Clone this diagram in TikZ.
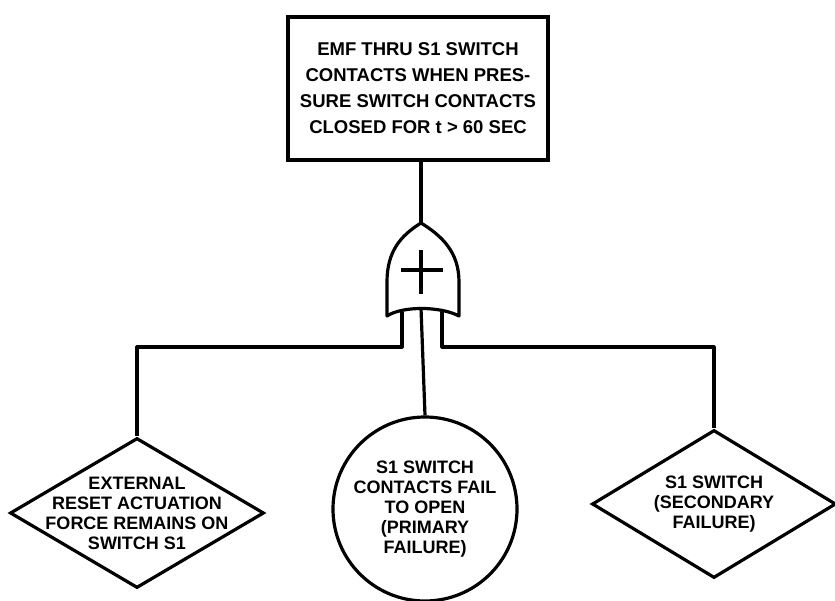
\documentclass[tikz,border=0pt]{standalone}
\usepackage{fontspec}
\setmainfont{Liberation Sans}
\usetikzlibrary{shapes.geometric}

\begin{document}
\begin{tikzpicture}[x=1pt, y=-1pt,
    % Define a style for the event shapes and their texts
    event/.style={draw=black, line width=3.2pt, inner sep=0pt},
    eventtext/.style={font=\bfseries\fontsize{18}{20}\selectfont, align=center},
    wire/.style={line width=3.2pt, line join=round}
]
    \useasboundingbox (0,0) rectangle (835,601);

    % Top event
    \node[event, eventtext, rectangle, minimum width=260pt, minimum height=143pt,
          font=\bfseries\fontsize{18.5}{26}\selectfont] (top) at (418,88.5)
          {EMF THRU S1 SWITCH\\CONTACTS WHEN PRES-\\SURE SWITCH CONTACTS\\CLOSED FOR t > 60 SEC};

    % OR gate, drawn by hand
    \coordinate (apex) at (421,223);
    \draw[wire] (apex) .. controls (400,236) and (387,252) .. (387,282) -- (387,316)
        .. controls (402,306) and (440,306) .. (459,316) -- (459,282)
        .. controls (459,252) and (442,236) .. (apex) -- cycle;
    \draw[wire] (421,250) -- (421,294);
    \draw[wire] (401,270) -- (443,270);

    % Gate outputs
    \coordinate (gL) at (402,312);
    \coordinate (gM) at (421,308);
    \coordinate (gR) at (442,312);

    % Basic and undeveloped events
    \node[event, diamond, minimum width=254pt, minimum height=150pt,
          label={[eventtext]center:EXTERNAL\\RESET ACTUATION\\FORCE REMAINS ON\\SWITCH S1}] (ext) at (137,513) {};
    \node[event, eventtext, circle, minimum size=184pt] (prim) at (425,509)
          {S1 SWITCH\\CONTACTS FAIL\\TO OPEN\\(PRIMARY\\FAILURE)};
    \node[event, diamond, minimum width=244pt, minimum height=148pt,
          label={[eventtext]center:S1 SWITCH\\(SECONDARY\\FAILURE)}] (sec) at (714,504) {};

    % Connectors
    \draw[wire] (top.south -| apex) -- (apex);
    \draw[wire] (gL) -- (402,347) -| (ext.north);
    \draw[wire] (gM) -- (prim.north);
    \draw[wire] (gR) -- (442,347) -| (sec.north);

\end{tikzpicture}
\end{document}
